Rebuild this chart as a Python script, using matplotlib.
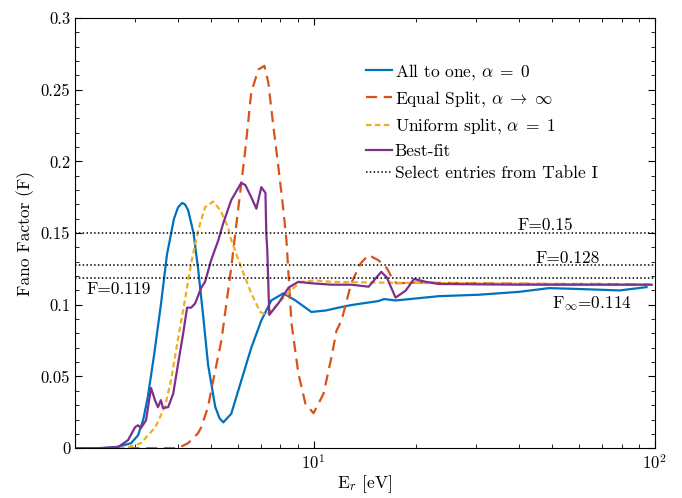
import matplotlib
matplotlib.use("Agg")
import matplotlib.pyplot as plt
from matplotlib.ticker import LogLocator, FixedLocator, MultipleLocator, NullFormatter, FuncFormatter

plt.rcParams["font.family"] = "serif"
plt.rcParams["font.serif"] = ["cmr10"]
plt.rcParams["mathtext.fontset"] = "cm"
plt.rcParams["axes.formatter.use_mathtext"] = True

# ---- data (E_r in eV, Fano factor) ----
blue_e = [2.0, 2.4, 2.67, 2.92, 3.06, 3.17, 3.27, 3.41, 3.57, 3.72, 3.90, 4.01, 4.12,
          4.20, 4.29, 4.45, 4.59, 4.75, 4.91, 5.15, 5.30, 5.44, 5.74, 6.14, 6.57,
          7.03, 7.52, 8.16, 8.85, 9.86, 10.85, 11.84, 12.9, 15.5, 16.1, 17.4, 23.3,
          30.5, 40.0, 49.0, 60.0, 78.9, 94.6]
blue_f = [0.0, 0.0, 0.001, 0.0035, 0.009, 0.020, 0.036, 0.065, 0.100, 0.135, 0.160,
          0.168, 0.171, 0.170, 0.166, 0.150, 0.125, 0.092, 0.058, 0.029, 0.021,
          0.018, 0.024, 0.047, 0.070, 0.089, 0.103, 0.108, 0.103, 0.095, 0.096,
          0.098, 0.0998, 0.1026, 0.104, 0.103, 0.106, 0.107, 0.109, 0.1116, 0.111,
          0.110, 0.1123]

orange_e = [2.0, 4.0, 4.29, 4.59, 4.69, 4.91, 5.01, 5.37, 5.74, 5.90, 6.31, 6.57,
            6.89, 7.18, 7.37, 7.63, 7.89, 8.16, 8.33, 8.62, 9.03, 9.47, 10.0,
            10.7, 11.3, 11.68, 12.08, 12.9, 13.75, 14.5, 15.5, 16.4, 16.96, 17.5,
            20.0, 30.0, 50.0, 70.0, 97.0]
orange_f = [0.0, 0.0, 0.0035, 0.0105, 0.0147, 0.029, 0.040, 0.075, 0.126, 0.150,
            0.208, 0.248, 0.264, 0.2666, 0.255, 0.224, 0.196, 0.166, 0.145, 0.087,
            0.052, 0.031, 0.0244, 0.038, 0.064, 0.082, 0.089, 0.115, 0.129, 0.1347,
            0.131, 0.1256, 0.119, 0.115, 0.1155, 0.115, 0.1145, 0.1145, 0.114]

yellow_e = [2.0, 2.8, 3.12, 3.44, 3.67, 3.82, 4.0, 4.21, 4.38, 4.59, 4.81, 5.08,
            5.33, 5.62, 5.74, 6.14, 6.57, 6.98, 7.27, 7.89, 8.55, 9.22, 10.1,
            11.3, 15.0, 25.0, 50.0, 97.0]
yellow_f = [0.0, 0.0, 0.0035, 0.0147, 0.029, 0.047, 0.075, 0.105, 0.129, 0.152,
            0.168, 0.172, 0.166, 0.154, 0.145, 0.126, 0.108, 0.095, 0.093, 0.101,
            0.110, 0.116, 0.117, 0.116, 0.1155, 0.115, 0.1145, 0.114]

purple_e = [2.0, 2.33, 2.67, 2.86, 3.0, 3.06, 3.12, 3.23, 3.34, 3.43, 3.50, 3.57,
            3.62, 3.75, 3.88, 4.01, 4.15, 4.26, 4.38, 4.50, 4.69, 4.81, 5.01,
            5.26, 5.44, 5.74, 6.14, 6.31, 6.57, 6.80, 7.03, 7.23, 7.27, 7.32,
            7.42, 7.89, 8.45, 9.03, 9.86, 11.3, 12.9, 14.5, 15.8, 16.4, 17.4,
            18.65, 19.7, 21.35, 23.3, 40.0, 70.0, 98.0]
purple_f = [0.0, 0.0, 0.0007, 0.0056, 0.0147, 0.016, 0.014, 0.0195, 0.042, 0.0335,
            0.0286, 0.0335, 0.028, 0.0286, 0.038, 0.059, 0.080, 0.098, 0.098,
            0.101, 0.112, 0.116, 0.131, 0.145, 0.157, 0.173, 0.185, 0.1835,
            0.175, 0.167, 0.182, 0.178, 0.150, 0.138, 0.093, 0.101, 0.112, 0.116,
            0.115, 0.114, 0.114, 0.1126, 0.123, 0.119, 0.105, 0.110, 0.118, 0.116,
            0.1145, 0.114, 0.114, 0.114]

table_vals = [0.15, 0.128, 0.119]
y_ticks = [0, 0.05, 0.1, 0.15, 0.2, 0.25, 0.3]

fig = plt.figure(figsize=(6.82, 4.98), dpi=100)
ax = fig.add_axes([0.110, 0.100, 0.850, 0.864])

ax.plot(blue_e, blue_f, color="#0072BD", lw=1.6, label=r"All to one, $\alpha\;=\;0$")
ax.plot(orange_e, orange_f, color="#D95319", lw=1.6, dashes=(5, 3),
        label=r"Equal Split, $\alpha\;\rightarrow\;\infty$")
ax.plot(yellow_e, yellow_f, color="#EDB120", lw=1.6, dashes=(2.5, 1.5),
        label=r"Uniform split, $\alpha\;=\;1$")
ax.plot(purple_e, purple_f, color="#7E2F8E", lw=1.6, label="Best-fit")
for i, v in enumerate(table_vals):
    ax.axhline(v, color="black", lw=1.1, dashes=(1, 1.5),
               label="Select entries from Table I" if i == 0 else None)

ax.text(39.5, 0.1556, "F=0.15", fontsize=12.5, va="center", ha="left")
ax.text(44.7, 0.1325, "F=0.128", fontsize=12.5, va="center", ha="left")
ax.text(2.16, 0.111, "F=0.119", fontsize=12.5, va="center", ha="left")
ax.text(50.1, 0.101, r"F$_\infty$=0.114", fontsize=12.5, va="center", ha="left")

ax.set_xscale("log")
ax.set_xlim(2, 100)
ax.set_ylim(0, 0.3)
ax.yaxis.set_major_locator(FixedLocator(y_ticks))
ax.yaxis.set_major_formatter(FuncFormatter(lambda v, p: "%g" % round(v, 3)))
ax.yaxis.set_minor_locator(MultipleLocator(0.01))
ax.xaxis.set_major_locator(LogLocator(base=10, numticks=5))
ax.xaxis.set_minor_locator(LogLocator(base=10, subs=range(2, 10), numticks=20))
ax.xaxis.set_minor_formatter(NullFormatter())
ax.tick_params(which="both", direction="in", top=True, right=True, labelsize=12)
ax.tick_params(which="major", length=5)
ax.tick_params(which="minor", length=3)

ax.set_xlabel(r"E$_r$ [eV]", fontsize=12.5, labelpad=1)
ax.set_ylabel("Fano Factor (F)", fontsize=12.5)

ax.legend(loc="upper left", bbox_to_anchor=(0.49, 0.914), frameon=False,
          fontsize=12.5, handlelength=1.5, handletextpad=0.15, labelspacing=0.42,
          borderaxespad=0)

fig.savefig("out.png", dpi=100)
